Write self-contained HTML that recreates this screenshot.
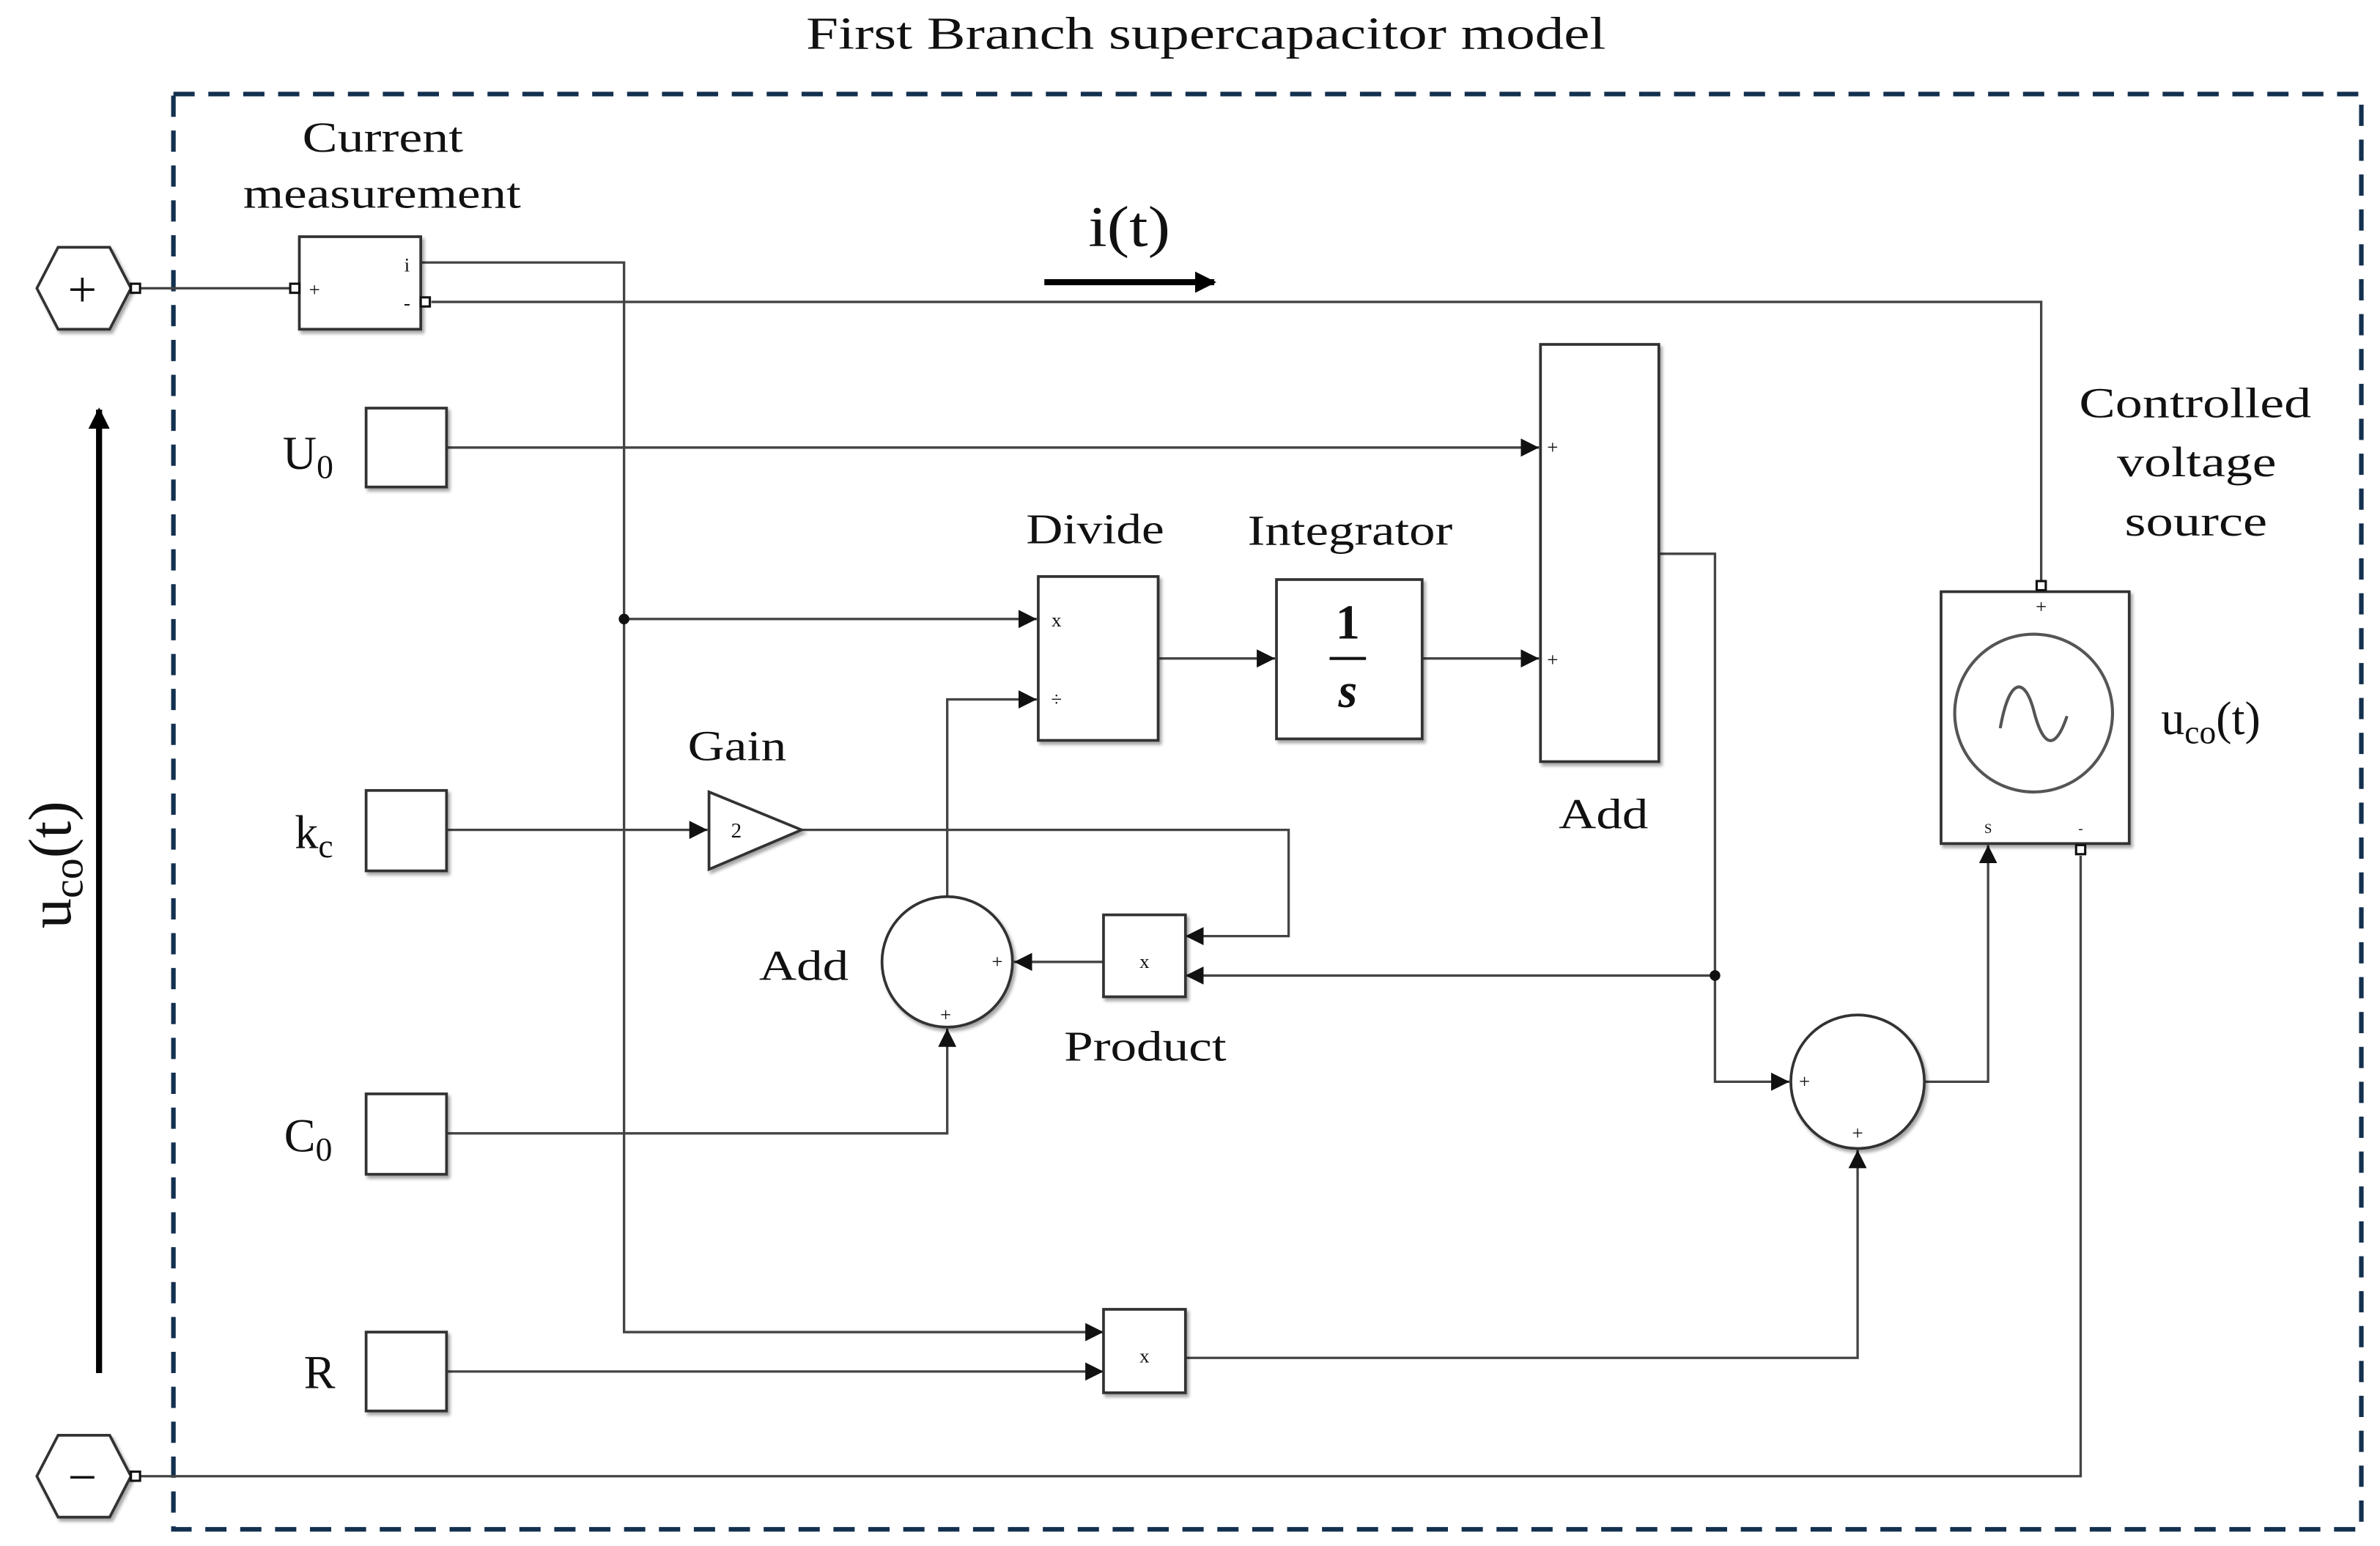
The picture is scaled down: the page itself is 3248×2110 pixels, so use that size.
<!DOCTYPE html>
<html><head><meta charset="utf-8"><style>
html,body{margin:0;padding:0;background:#fff;}
svg{display:block;}
text{font-family:"Liberation Serif",serif;fill:#111;}
</style></head><body>
<svg width="3248" height="2110" viewBox="0 0 1568 1019" xmlns="http://www.w3.org/2000/svg">
<defs>
<marker id="a" viewBox="0 0 10 10" refX="10" refY="5" markerWidth="12" markerHeight="12" markerUnits="userSpaceOnUse" orient="auto"><path d="M0,0 L10,5 L0,10 z" fill="#111"/></marker>
<marker id="b" viewBox="0 0 10 10" refX="9" refY="5" markerWidth="18" markerHeight="14" markerUnits="userSpaceOnUse" orient="auto"><path d="M0,0 L10,5 L0,10 z" fill="#000"/></marker>
<filter id="sh" x="-10%" y="-10%" width="130%" height="130%"><feDropShadow dx="1.5" dy="2" stdDeviation="1" flood-color="#000" flood-opacity="0.35"/></filter>
</defs>
<rect width="1568" height="1019" fill="#fff"/>
<text x="531" y="32" font-size="30" textLength="527" lengthAdjust="spacingAndGlyphs">First Branch supercapacitor model</text>
<rect x="114" y="62" width="1442" height="946" fill="none" stroke="#14304f" stroke-width="3" stroke-dasharray="14 9"/>

<g fill="none" stroke="#444" stroke-width="1.6">
<polyline points="92,190 193,190"/>
<polyline points="277,173 411,173 411,878 727,878" marker-end="url(#a)"/>
<polyline points="411,408 683,408" marker-end="url(#a)"/>
<polyline points="284,199 1345,199 1345,383"/>
<polyline points="294,295 1014,295" marker-end="url(#a)"/>
<polyline points="763,434 840,434" marker-end="url(#a)"/>
<polyline points="937,434 1014,434" marker-end="url(#a)"/>
<polyline points="1093,365 1130,365 1130,713 1179,713" marker-end="url(#a)"/>
<polyline points="1130,643 781,643" marker-end="url(#a)"/>
<polyline points="294,547 466,547" marker-end="url(#a)"/>
<polyline points="528,547 849,547 849,617 781,617" marker-end="url(#a)"/>
<polyline points="727,634 668,634" marker-end="url(#a)"/>
<polyline points="624,591 624,461 683,461" marker-end="url(#a)"/>
<polyline points="294,747 624,747 624,678" marker-end="url(#a)"/>
<polyline points="294,904 727,904" marker-end="url(#a)"/>
<polyline points="781,895 1224,895 1224,758" marker-end="url(#a)"/>
<polyline points="1268,713 1310,713 1310,557" marker-end="url(#a)"/>
<polyline points="92,973 1371,973 1371,564"/>
</g>
<circle cx="411" cy="408" r="3.5" fill="#111"/>
<circle cx="1130" cy="643" r="3.5" fill="#111"/>

<line x1="688" y1="186" x2="800" y2="186" stroke="#000" stroke-width="4" marker-end="url(#b)"/>
<text x="717" y="162" font-size="38" textLength="54" lengthAdjust="spacingAndGlyphs">i(t)</text>
<line x1="65" y1="905" x2="65" y2="270" stroke="#000" stroke-width="4" marker-end="url(#b)"/>
<text transform="translate(46,570) rotate(-90)" font-size="40" text-anchor="middle">u<tspan font-size="28" dy="8">co</tspan><tspan dy="-8">(t)</tspan></text>

<g fill="#fff" stroke="#333" stroke-width="1.8" filter="url(#sh)">
<polygon points="24,190 38,163 72,163 86,190 72,217 38,217"/>
<polygon points="24,973 38,946 72,946 86,973 72,1000 38,1000"/>
<rect x="197" y="156" width="80" height="61"/>
<rect x="241" y="269" width="53" height="52"/>
<rect x="241" y="521" width="53" height="53"/>
<rect x="241" y="721" width="53" height="53"/>
<rect x="241" y="878" width="53" height="52"/>
<rect x="1015" y="227" width="78" height="275"/>
<rect x="684" y="380" width="79" height="108"/>
<rect x="841" y="382" width="96" height="105"/>
<polygon points="467,522 528,547 467,573"/>
<rect x="727" y="603" width="54" height="54"/>
<rect x="727" y="863" width="54" height="55"/>
<circle cx="624" cy="634" r="43"/>
<circle cx="1224" cy="713" r="44"/>
<rect x="1279" y="390" width="124" height="166"/>
</g>
<g fill="#fff" stroke="#111" stroke-width="1.5">
<rect x="86" y="187" width="6" height="6"/>
<rect x="86" y="970" width="6" height="6"/>
<rect x="191" y="187" width="6" height="6"/>
<rect x="277" y="196" width="6" height="6"/>
<rect x="1342" y="383" width="6" height="6"/>
<rect x="1368" y="557" width="6" height="6"/>
</g>
<text x="54" y="202" font-size="34" text-anchor="middle" font-family="Liberation Sans,sans-serif">+</text>
<text x="54" y="985" font-size="34" text-anchor="middle" font-family="Liberation Sans,sans-serif">−</text>
<circle cx="1340" cy="470" r="52" fill="none" stroke="#555" stroke-width="2"/>
<path d="M1318,480 C1324,446 1334,446 1340,468 C1346,492 1354,496 1362,472" fill="none" stroke="#555" stroke-width="2"/>

<g font-size="13" font-family="Liberation Sans,sans-serif" fill="#333" text-anchor="middle">
<text x="268" y="179">i</text><text x="207" y="195">+</text><text x="268" y="204">-</text>
<text x="1023" y="299">+</text><text x="1023" y="439">+</text>
<text x="696" y="413">x</text><text x="696" y="465">÷</text>
<text x="754" y="638">x</text><text x="754" y="898">x</text>
<text x="657" y="638">+</text><text x="623" y="673">+</text>
<text x="1189" y="717">+</text><text x="1224" y="751">+</text>
<text x="1345" y="404">+</text><text x="1310" y="549" font-size="9">S</text><text x="1371" y="549" font-size="9">-</text>
<text x="485" y="552" font-size="14">2</text>
</g>
<text x="888" y="421" font-size="32" font-weight="bold" text-anchor="middle">1</text>
<line x1="876" y1="434" x2="900" y2="434" stroke="#111" stroke-width="2"/>
<text x="888" y="466" font-size="32" font-weight="bold" font-style="italic" text-anchor="middle">s</text>

<g font-size="28">
<text x="199" y="100" textLength="106" lengthAdjust="spacingAndGlyphs">Current</text>
<text x="160" y="137" textLength="183" lengthAdjust="spacingAndGlyphs">measurement</text>
<text x="676" y="358" textLength="91" lengthAdjust="spacingAndGlyphs">Divide</text>
<text x="822" y="359" textLength="135" lengthAdjust="spacingAndGlyphs">Integrator</text>
<text x="1027" y="546" textLength="59" lengthAdjust="spacingAndGlyphs">Add</text>
<text x="453" y="501" textLength="65" lengthAdjust="spacingAndGlyphs">Gain</text>
<text x="500" y="646" textLength="59" lengthAdjust="spacingAndGlyphs">Add</text>
<text x="701" y="699" textLength="107" lengthAdjust="spacingAndGlyphs">Product</text>
<text x="1370" y="275" textLength="153" lengthAdjust="spacingAndGlyphs">Controlled</text>
<text x="1395" y="314" textLength="105" lengthAdjust="spacingAndGlyphs">voltage</text>
<text x="1400" y="353" textLength="94" lengthAdjust="spacingAndGlyphs">source</text>
</g>
<text x="186" y="309" font-size="31">U<tspan font-size="22" dy="6">0</tspan></text>
<text x="194" y="559" font-size="31">k<tspan font-size="22" dy="6">c</tspan></text>
<text x="187" y="759" font-size="31">C<tspan font-size="22" dy="6">0</tspan></text>
<text x="200" y="915" font-size="31">R</text>
<text x="1424" y="484" font-size="31">u<tspan font-size="22" dy="6">co</tspan><tspan dy="-6">(t)</tspan></text>
</svg>
</body></html>
